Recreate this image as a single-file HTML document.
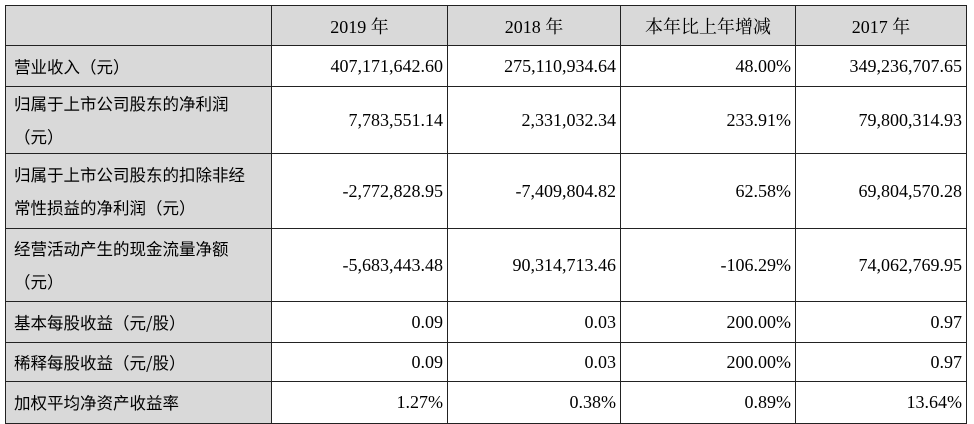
<!DOCTYPE html>
<html><head><meta charset="utf-8"><style>
body{margin:0;background:#fff;width:974px;height:419px;overflow:hidden;}
table{position:absolute;left:5px;top:5px;border-collapse:collapse;table-layout:fixed;font-family:"Liberation Serif","Noto Serif CJK SC",serif;font-size:18px;color:#000;}
td{border:1.5px solid #222;padding:0 4px;overflow:hidden;white-space:nowrap;}
td.h{background:#d9d9d9;text-align:center;}
td.l{background:#d9d9d9;text-align:left;line-height:33px;padding-left:8px;font-family:"Noto Sans CJK SC","Liberation Sans",sans-serif;font-size:16.5px;}
td.v{text-align:right;padding-right:4px;}
</style></head><body>
<table>
<colgroup><col style="width:266px"><col style="width:176px"><col style="width:173px"><col style="width:175px"><col style="width:171px"></colgroup>
<tr style="height:40px"><td class="h"></td><td class="h">2019 年</td><td class="h">2018 年</td><td class="h">本年比上年增减</td><td class="h">2017 年</td></tr>
<tr style="height:41px"><td class="l">营业收入（元）</td><td class="v">407,171,642.60</td><td class="v">275,110,934.64</td><td class="v">48.00%</td><td class="v">349,236,707.65</td></tr>
<tr style="height:67px"><td class="l">归属于上市公司股东的净利润<br>（元）</td><td class="v">7,783,551.14</td><td class="v">2,331,032.34</td><td class="v">233.91%</td><td class="v">79,800,314.93</td></tr>
<tr style="height:75px"><td class="l">归属于上市公司股东的扣除非经<br>常性损益的净利润（元）</td><td class="v">-2,772,828.95</td><td class="v">-7,409,804.82</td><td class="v">62.58%</td><td class="v">69,804,570.28</td></tr>
<tr style="height:73px"><td class="l">经营活动产生的现金流量净额<br>（元）</td><td class="v">-5,683,443.48</td><td class="v">90,314,713.46</td><td class="v">-106.29%</td><td class="v">74,062,769.95</td></tr>
<tr style="height:41px"><td class="l">基本每股收益（元/股）</td><td class="v">0.09</td><td class="v">0.03</td><td class="v">200.00%</td><td class="v">0.97</td></tr>
<tr style="height:39px"><td class="l">稀释每股收益（元/股）</td><td class="v">0.09</td><td class="v">0.03</td><td class="v">200.00%</td><td class="v">0.97</td></tr>
<tr style="height:42px"><td class="l">加权平均净资产收益率</td><td class="v">1.27%</td><td class="v">0.38%</td><td class="v">0.89%</td><td class="v">13.64%</td></tr>
</table>
</body></html>
